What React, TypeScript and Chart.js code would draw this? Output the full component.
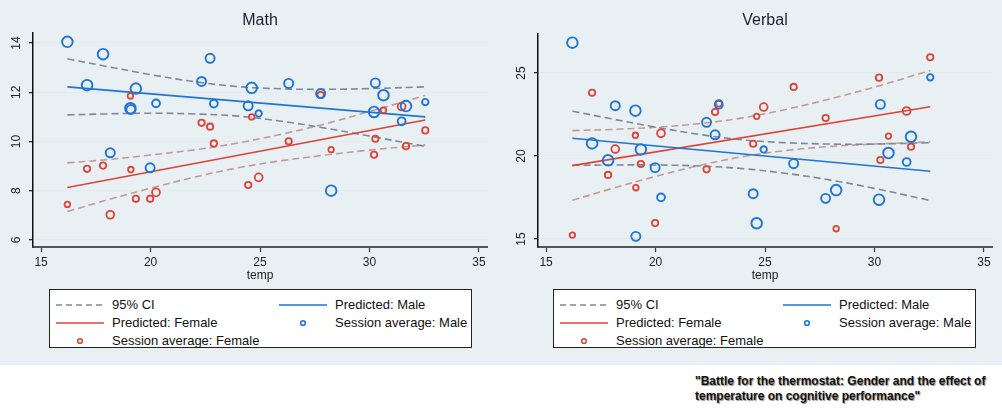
import React, { useEffect, useRef } from 'react';
import { Chart, registerables } from 'chart.js';

Chart.register(...registerables);
Chart.defaults.font.family = '"Liberation Sans", Arial, Helvetica, sans-serif';

// session temperatures (°C), one entry per session
const temps = [16.2, 17.1, 17.83, 18.16, 19.08, 19.1, 19.33, 19.98, 20.25, 22.33, 22.72, 22.89,
  24.46, 24.62, 24.94, 26.31, 27.77, 28.25, 30.21, 30.27, 30.64, 31.47, 31.67, 32.55];
// participants per session (marker size)
const menPerSession = [11, 11, 11, 8, 11, 8, 11, 8, 6, 8, 8, 6, 8, 11, 4, 8, 8, 11, 11, 8, 11, 6, 11, 4];
const womenPerSession = [3, 4, 4, 6, 3, 3, 4, 4, 6, 4, 4, 4, 4, 3, 6, 4, 4, 3, 4, 4, 3, 6, 4, 4];

const mathMale = [14.05, 12.29, 13.55, 9.54, 11.35, 11.3, 12.15, 8.93, 11.55, 12.44, 13.38, 11.54,
  11.45, 12.18, 11.14, 12.36, 11.95, 8.0, 11.2, 12.38, 11.88, 10.82, 11.44, 11.6];
const mathFemale = [7.44, 8.89, 9.02, 7.02, 11.85, 8.86, 7.67, 7.67, 7.93, 10.76, 10.6, 9.92,
  8.23, 11.0, 8.54, 10.01, 11.89, 9.67, 9.46, 10.11, 11.27, 11.42, 9.81, 10.45];
const verbalMale = [26.83, 20.76, 19.74, 23.03, 22.73, 15.16, 20.4, 19.3, 17.51, 22.03, 21.28, 23.09,
  17.73, 15.95, 20.4, 19.54, 17.45, 17.95, 17.37, 23.11, 20.18, 19.64, 21.16, 24.74];
const verbalFemale = [15.24, 23.81, 18.86, 20.42, 21.25, 18.09, 19.52, 15.96, 21.37, 19.2, 22.65, 23.17,
  20.74, 22.39, 22.95, 24.16, 22.29, 15.62, 24.72, 19.76, 21.2, 22.71, 20.56, 25.95];

// fitted lines (end points) and 95% CI bands
const predX = [16.2, 32.55];
const mathMalePred = [12.22, 11.0];
const mathFemalePred = [8.13, 10.87];
const verbalMalePred = [21.07, 19.08];
const verbalFemalePred = [19.42, 22.97];

const ciX = [16.2, 18, 20, 22, 24, 26, 28, 30, 32.55];
const mathMaleUpper = [13.36, 13.05, 12.72, 12.43, 12.23, 12.14, 12.12, 12.15, 12.22];
const mathMaleLower = [11.08, 11.12, 11.15, 11.12, 11.03, 10.82, 10.54, 10.22, 9.8];
const mathFemaleUpper = [9.13, 9.26, 9.45, 9.66, 9.94, 10.3, 10.72, 11.22, 11.87];
const mathFemaleLower = [7.15, 7.62, 8.1, 8.55, 8.93, 9.22, 9.45, 9.65, 9.86];
const verbalMaleUpper = [22.7, 22.24, 21.74, 21.3, 20.97, 20.8, 20.72, 20.72, 20.8];
const verbalMaleLower = [19.44, 19.46, 19.46, 19.4, 19.24, 18.95, 18.55, 18.05, 17.32];
const verbalFemaleUpper = [21.53, 21.6, 21.73, 21.95, 22.3, 22.82, 23.45, 24.15, 25.15];
const verbalFemaleLower = [17.33, 18.04, 18.77, 19.43, 19.97, 20.34, 20.58, 20.72, 20.85];

const xTicks = [15, 20, 25, 30, 35];
const mathYTicks = [6, 8, 10, 12, 14];
const verbalYTicks = [15, 20, 25];

const BLUE = '#1f74d6';
const RED = '#dd4438';
const CI_MALE = '#7d889b';
const CI_FEMALE = '#c39a98';
const PANEL_BG = '#e9f0f3';

const pts = (xs: number[], ys: number[]) => xs.map((x, i) => ({ x, y: ys[i] }));
const radius = (n: number) => 1.6 * Math.sqrt(n);

type PanelProps = {
  title: string;
  left: number;
  width: number;
  axisWidth: number;
  padRight: number;
  plotTop: number;
  yMin: number;
  yMax: number;
  yTicks: number[];
  male: number[];
  female: number[];
  malePred: number[];
  femalePred: number[];
  maleUp: number[];
  maleLo: number[];
  femUp: number[];
  femLo: number[];
};

const CANVAS_H = 285;
const PLOT_BOTTOM = 247;

const Panel: React.FC<PanelProps> = (p) => {
  const ref = useRef<HTMLCanvasElement>(null);

  useEffect(() => {
    if (!ref.current) return;
    const ciLine = (data: number[], color: string) => ({
      data: pts(ciX, data), showLine: true, borderColor: color, borderWidth: 1.6,
      borderDash: [7, 4], pointRadius: 0, tension: 0.35, order: 2, fill: false,
    });
    const fitLine = (data: number[], color: string) => ({
      data: pts(predX, data), showLine: true, borderColor: color, borderWidth: 1.6,
      pointRadius: 0, order: 1, fill: false,
    });
    const chart = new Chart(ref.current, {
      type: 'scatter',
      data: {
        datasets: [
          {
            data: pts(temps, p.male), borderColor: BLUE, backgroundColor: 'rgba(0,0,0,0)',
            borderWidth: 1.9, pointRadius: (c: any) => radius(menPerSession[c.dataIndex]), order: 0,
          },
          {
            data: pts(temps, p.female), borderColor: RED, backgroundColor: 'rgba(0,0,0,0)',
            borderWidth: 1.8, pointRadius: (c: any) => radius(womenPerSession[c.dataIndex]), order: 0,
          },
          fitLine(p.malePred, BLUE),
          fitLine(p.femalePred, RED),
          ciLine(p.maleUp, CI_MALE),
          ciLine(p.maleLo, CI_MALE),
          ciLine(p.femUp, CI_FEMALE),
          ciLine(p.femLo, CI_FEMALE),
        ] as any,
      },
      options: {
        animation: false,
        responsive: false,
        events: [],
        layout: { padding: { left: 0, right: p.padRight, top: 0, bottom: 0 } },
        plugins: {
          legend: { display: false },
          tooltip: { enabled: false },
          title: {
            display: true, text: p.title, fullSize: false, color: '#1c2130',
            font: { size: 16, weight: 'normal' },
            padding: { top: 11, bottom: p.plotTop - 11 - 19.2 },
          },
        },
        scales: {
          x: {
            type: 'linear', min: 14.63, max: 35.37,
            afterBuildTicks: (s: any) => { s.ticks = xTicks.map(v => ({ value: v })); },
            afterFit: (s: any) => { s.height = CANVAS_H - PLOT_BOTTOM; },
            ticks: { color: '#222', font: { size: 12 }, padding: 3, maxRotation: 0, autoSkip: false },
            grid: { drawOnChartArea: false, drawTicks: true, tickLength: 5, tickColor: '#444', tickWidth: 1.3 },
            border: { display: true, color: '#555', width: 2 },
            title: { display: true, text: 'temp', color: '#222', font: { size: 12 }, padding: { top: 0, bottom: 2 } },
          },
          y: {
            type: 'linear', min: p.yMin, max: p.yMax,
            afterBuildTicks: (s: any) => { s.ticks = p.yTicks.map(v => ({ value: v })); },
            afterFit: (s: any) => { s.width = p.axisWidth; },
            ticks: {
              color: '#222', font: { size: 12 }, padding: 6, minRotation: 90, maxRotation: 90,
              crossAlign: 'center', autoSkip: false,
            },
            grid: { color: '#e3e9ed', lineWidth: 1.3, tickColor: '#222', tickLength: 4, tickWidth: 1.3 },
            border: { display: true, color: '#111', width: 1.5 },
          },
        },
      } as any,
    });
    return () => chart.destroy();
  }, []);

  const legendItems = [
    { label: '95% CI', kind: 'dash', color: CI_MALE, col: 0, row: 0 },
    { label: 'Predicted: Male', kind: 'line', color: BLUE, col: 1, row: 0 },
    { label: 'Predicted: Female', kind: 'line', color: RED, col: 0, row: 1 },
    { label: 'Session average: Male', kind: 'dot', color: BLUE, col: 1, row: 1 },
    { label: 'Session average: Female', kind: 'dot', color: RED, col: 0, row: 2 },
  ];

  return (
    <div style={{ position: 'absolute', left: p.left, top: 0, width: p.width, height: 365, background: PANEL_BG }}>
      <canvas ref={ref} width={p.width} height={CANVAS_H} style={{ display: 'block', width: p.width, height: CANVAS_H }} />
      <div style={{
        position: 'absolute', left: p.left === 0 ? 49 : 53, top: 289, width: 421, height: 57,
        border: '1px solid #222', background: '#fff',
      }}>
        {legendItems.map((it, i) => {
          const symLeft = it.col === 0 ? 6 : 229;
          const textLeft = it.col === 0 ? 62 : 285;
          const cy = 15 + it.row * 18;
          return (
            <React.Fragment key={i}>
              <svg style={{ position: 'absolute', left: symLeft, top: cy - 5 }} width={48} height={10}>
                {it.kind === 'dot'
                  ? <circle cx={24} cy={5} r={2.3} fill="none" stroke={it.color} strokeWidth={1.6} />
                  : <line x1={0} y1={5} x2={48} y2={5} stroke={it.color} strokeWidth={1.6}
                      strokeDasharray={it.kind === 'dash' ? '6 4' : undefined} />}
              </svg>
              <div style={{
                position: 'absolute', left: textLeft, top: cy - 9, height: 18, lineHeight: '18px',
                fontSize: 13, color: '#111', whiteSpace: 'nowrap',
              }}>{it.label}</div>
            </React.Fragment>
          );
        })}
      </div>
    </div>
  );
};

const App: React.FC = () => (
  <div style={{
    position: 'absolute', left: 0, top: 0, width: 1002, height: 410, background: '#fff', overflow: 'hidden',
    fontFamily: '"Liberation Sans", Arial, Helvetica, sans-serif',
  }}>
    <Panel title="Math" left={0} width={500} axisWidth={33} padRight={13} plotTop={33}
      yMin={5.71} yMax={14.41} yTicks={mathYTicks} male={mathMale} female={mathFemale}
      malePred={mathMalePred} femalePred={mathFemalePred}
      maleUp={mathMaleUpper} maleLo={mathMaleLower} femUp={mathFemaleUpper} femLo={mathFemaleLower} />
    <Panel title="Verbal" left={500} width={502} axisWidth={38} padRight={10} plotTop={34}
      yMin={14.52} yMax={27.35} yTicks={verbalYTicks} male={verbalMale} female={verbalFemale}
      malePred={verbalMalePred} femalePred={verbalFemalePred}
      maleUp={verbalMaleUpper} maleLo={verbalMaleLower} femUp={verbalFemaleUpper} femLo={verbalFemaleLower} />
    <div style={{
      position: 'absolute', left: 695, top: 374, fontSize: 12, fontWeight: 'bold', lineHeight: '15px',
      color: '#111', textShadow: '1px 1px 1px rgba(0,0,0,0.45)', whiteSpace: 'nowrap',
    }}>
      "Battle for the thermostat: Gender and the effect of<br />temperature on cognitive performance"
    </div>
  </div>
);

export default App;
